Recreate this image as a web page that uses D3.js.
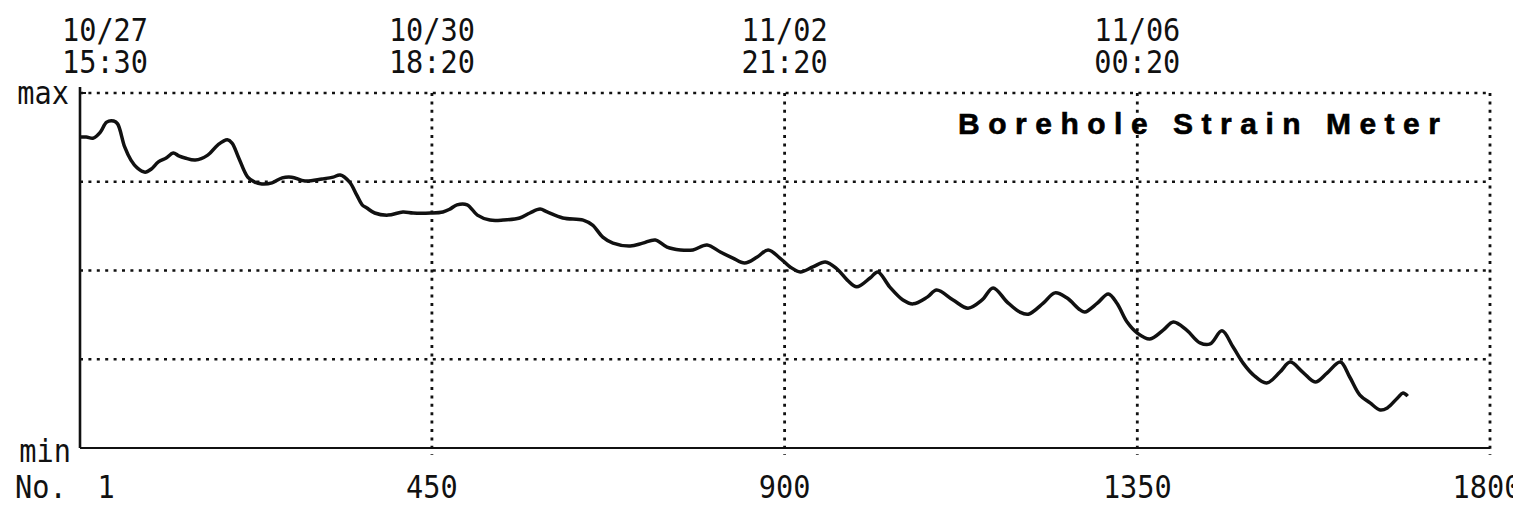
<!DOCTYPE html>
<html>
<head>
<meta charset="utf-8">
<script src="https://cdn.jsdelivr.net/npm/d3@7"></script>
<style>
  body { margin: 0; background: #fff; overflow: hidden; }
  .mono { font-family: "DejaVu Sans Mono", "Liberation Mono", monospace; font-size: 28.6px; fill: #111; }
</style>
</head>
<body>
<svg id="chart" width="1513" height="506"></svg>
<script>
// sample number (No.) and strain reading, in percent of the min..max range
var sampleNo = [1, 9, 18, 27, 35, 44, 49, 58, 66, 74, 84, 92, 101, 111, 120, 127, 135, 148, 164, 177,
  189, 195, 203, 215, 224, 233, 246, 259, 271, 288, 310, 324, 333, 345, 354, 361, 367, 377, 394, 413,
  426, 448, 464, 473, 482, 495, 508, 524, 541, 562, 575, 588, 597, 617, 643, 655, 668, 681, 703, 719,
  735, 750, 767, 783, 801, 818, 834, 849, 865, 879, 894, 907, 920, 936, 952, 967, 980, 992, 1009, 1019,
  1034, 1051, 1064, 1082, 1094, 1115, 1134, 1152, 1166, 1184, 1200, 1211, 1230, 1245, 1260, 1277, 1283, 1299, 1313, 1324,
  1337, 1350, 1366, 1383, 1396, 1413, 1430, 1443, 1458, 1472, 1485, 1498, 1515, 1532, 1545, 1561, 1577, 1592, 1609, 1621,
  1634, 1647, 1660, 1669, 1682, 1689, 1695];
var strain = [87.6, 87.6, 87.3, 89.0, 91.8, 92.1, 91.3, 84.8, 81.1, 78.9, 77.7, 78.6, 80.6, 81.7, 83.1, 82.3, 81.7, 81.1, 82.5, 85.4,
  86.8, 85.9, 82.0, 76.3, 74.9, 74.4, 74.7, 76.1, 76.3, 75.2, 75.8, 76.3, 76.9, 74.9, 71.3, 68.5, 67.6, 66.2, 65.6, 66.5,
  66.2, 66.2, 66.5, 67.3, 68.5, 68.5, 65.6, 64.2, 64.2, 64.8, 66.2, 67.3, 66.5, 64.8, 64.2, 62.8, 59.4, 57.7, 56.9, 57.7,
  58.6, 56.6, 55.8, 55.8, 57.2, 55.2, 53.5, 52.1, 53.8, 55.8, 53.5, 51.0, 49.6, 51.0, 52.4, 50.4, 47.3, 45.4, 47.9, 49.6,
  45.4, 41.7, 40.6, 42.5, 44.5, 41.7, 39.4, 41.7, 45.1, 41.1, 38.3, 37.7, 40.8, 43.7, 42.3, 38.9, 38.3, 40.8, 43.4, 40.8,
  35.5, 32.4, 30.7, 33.2, 35.5, 33.2, 29.6, 29.3, 33.0, 28.5, 23.9, 20.6, 18.3, 21.4, 24.2, 21.4, 18.6, 21.1, 24.2, 20.0,
  14.9, 12.7, 10.7, 11.3, 14.1, 15.5, 14.6];

var xTicks = [450, 900, 1350, 1800];
var xTickLabels = ["450", "900", "1350", "1800"];
var yGrid = [25, 50, 75, 100];
var dateTicks = [1, 450, 900, 1350];
var dateLabels = [["10/27", "15:30"], ["10/30", "18:20"], ["11/02", "21:20"], ["11/06", "00:20"]];
var title = "Borehole Strain Meter";

var svg = d3.select("#chart");

var x = d3.scaleLinear().domain([1, 1800]).range([80, 1490]);
var y = d3.scaleLinear().domain([0, 100]).range([448, 93]);

// dotted grid
svg.append("g")
    .selectAll("line")
    .data(yGrid)
    .enter().append("line")
    .attr("x1", x(1)).attr("x2", x(1800))
    .attr("y1", function(d) { return y(d); })
    .attr("y2", function(d) { return y(d); })
    .attr("stroke", "#111")
    .attr("stroke-width", 2.4)
    .attr("stroke-dasharray", "3,5.4");

svg.append("g")
    .selectAll("line")
    .data(xTicks)
    .enter().append("line")
    .attr("x1", function(d) { return x(d); })
    .attr("x2", function(d) { return x(d); })
    .attr("y1", y(100)).attr("y2", y(0) + 7)
    .attr("stroke", "#111")
    .attr("stroke-width", 2.8)
    .attr("stroke-dasharray", "3,5.4");

// solid axes
svg.append("line")
    .attr("x1", x(1)).attr("x2", x(1))
    .attr("y1", y(100) - 6).attr("y2", y(0))
    .attr("stroke", "#111").attr("stroke-width", 2.6);
svg.append("line")
    .attr("x1", x(1)).attr("x2", x(1800))
    .attr("y1", y(0)).attr("y2", y(0))
    .attr("stroke", "#111").attr("stroke-width", 2);
svg.append("line")
    .attr("x1", x(1)).attr("x2", x(1) + 6)
    .attr("y1", y(100)).attr("y2", y(100))
    .attr("stroke", "#111").attr("stroke-width", 2);

// text helper: stretched monospace like the plotter font
function monoText(tx, ty, lines, anchor) {
    var t = svg.append("g")
        .attr("transform", "translate(" + tx + "," + ty + ") scale(1,1.1)")
      .append("text")
        .attr("class", "mono")
        .attr("text-anchor", anchor);
    [].concat(lines).forEach(function(s, i) {
        t.append("tspan")
            .attr("x", 0)
            .attr("y", i * 29)
            .text(s);
    });
}

monoText(x(1) - 11, 104, "max", "end");
monoText(x(1) - 9, 462, "min", "end");
monoText(15, 498, "No.", "start");
monoText(x(1) + 26, 498, "1", "middle");

xTicks.forEach(function(d, i) {
    var dx = d === 1800 ? -3 : 0;
    monoText(x(d) + dx, 498, xTickLabels[i], "middle");
});

dateTicks.forEach(function(d, i) {
    var dx = d === 1 ? 25 : 0;
    monoText(x(d) + dx, 41, dateLabels[i], "middle");
});

svg.append("text")
    .attr("x", 958)
    .attr("y", 134)
    .attr("font-family", "Liberation Sans, Arial, sans-serif")
    .attr("font-weight", "bold")
    .attr("font-size", 30)
    .attr("fill", "#000")
    .attr("stroke", "#000")
    .attr("stroke-width", 0.6)
    .attr("textLength", 482)
    .attr("lengthAdjust", "spacing")
    .text(title);

// the strain trace
var line = d3.line()
    .x(function(d) { return x(d[0]); })
    .y(function(d) { return y(d[1]); })
    .curve(d3.curveCatmullRom);

svg.append("path")
    .datum(d3.zip(sampleNo, strain))
    .attr("fill", "none")
    .attr("stroke", "#111")
    .attr("stroke-width", 3.5)
    .attr("stroke-linejoin", "round")
    .attr("d", line);
</script>
</body>
</html>
